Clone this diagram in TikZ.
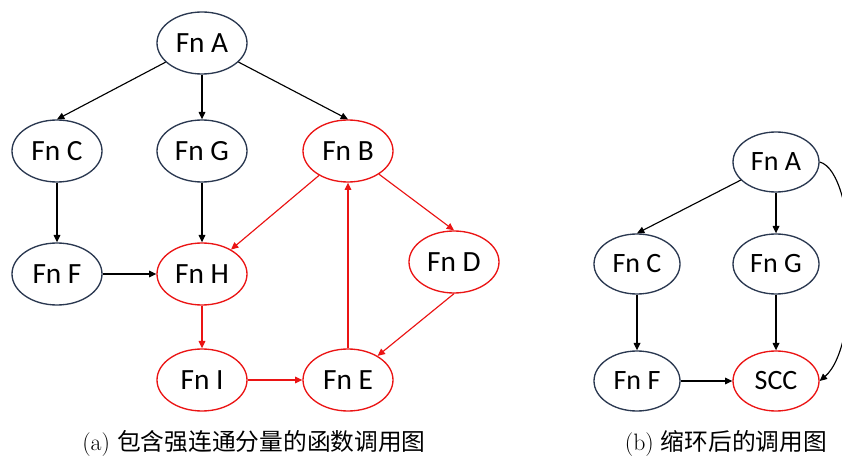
\documentclass[tikz,border=0pt]{standalone}
\usepackage{fontspec}
\newfontfamily\nodefont{Carlito}
\newfontfamily\cjk{Noto Sans CJK SC}
\usetikzlibrary{arrows.meta,shapes.geometric}
\definecolor{navy}{RGB}{42,56,80}
\definecolor{sccred}{RGB}{235,20,20}
\tikzset{
  fn/.style={ellipse,draw=navy,line width=1pt,fill=white,inner sep=0pt,
    minimum width=67.5pt,minimum height=46.5pt,font=\nodefont\fontsize{22}{25}\selectfont},
  fnr/.style={fn,draw=sccred},
  fns/.style={fn,minimum width=64.5pt,minimum height=45pt,font=\nodefont\fontsize{21}{24}\selectfont},
  fnsr/.style={fns,draw=sccred},
  call/.style={line width=0.85pt,-{Triangle[length=5.5pt,width=5pt]}},
  callr/.style={call,draw=sccred,fill=sccred},
  captext/.style={font=\fontsize{17.8}{20}\selectfont}
}
\begin{document}
\begin{tikzpicture}[x=0.75pt,y=-0.75pt]
\clip (0,0) rectangle (842,459);
\fill[white] (0,0) rectangle (842,459);
% left graph
\node[fn]  (A) at (202,43) {Fn A};
\node[fn]  (C) at (57,151) {Fn C};
\node[fn]  (G) at (202,151) {Fn G};
\node[fnr] (B) at (348,151) {Fn B};
\node[fn]  (F) at (57,274) {Fn F};
\node[fnr] (H) at (202,274) {Fn H};
\node[fnr] (D) at (454,262) {Fn D};
\node[fnr] (I) at (202,380) {Fn I};
\node[fnr] (E) at (348,380) {Fn E};
\draw[call] (A) -- (C.north);
\draw[call] (A) -- (G);
\draw[call] (A) -- (B.north);
\draw[call] (C) -- (F);
\draw[call] (G) -- (H);
\draw[call] (F) -- (H);
\draw[callr] (B) -- (H);
\draw[callr] (B) -- (D.north);
\draw[callr] (D.south) -- (E);
\draw[callr] (E) -- (B);
\draw[callr] (H) -- (I);
\draw[callr] (I) -- (E);
% right graph
\node[fns]  (A2) at (776,162) {Fn A};
\node[fns]  (C2) at (637,264) {Fn C};
\node[fns]  (G2) at (776,264) {Fn G};
\node[fns]  (F2) at (637,381) {Fn F};
\node[fnsr] (S)  at (776,381) {SCC};
\draw[call] (A2) -- (C2.north);
\draw[call] (A2) -- (G2);
\draw[call] (C2) -- (F2);
\draw[call] (G2) -- (S);
\draw[call] (F2) -- (S);
\draw[call] (A2.east) .. controls (858,172) and (862,345) .. (S.east);
% captions
\node[captext] (capa) at (254,443) {(a) {\cjk 包含强连通分量的函数调用图}};
\node[captext] (capb) at (726,443) {(b) {\cjk 缩环后的调用图}};
\end{tikzpicture}
\end{document}
